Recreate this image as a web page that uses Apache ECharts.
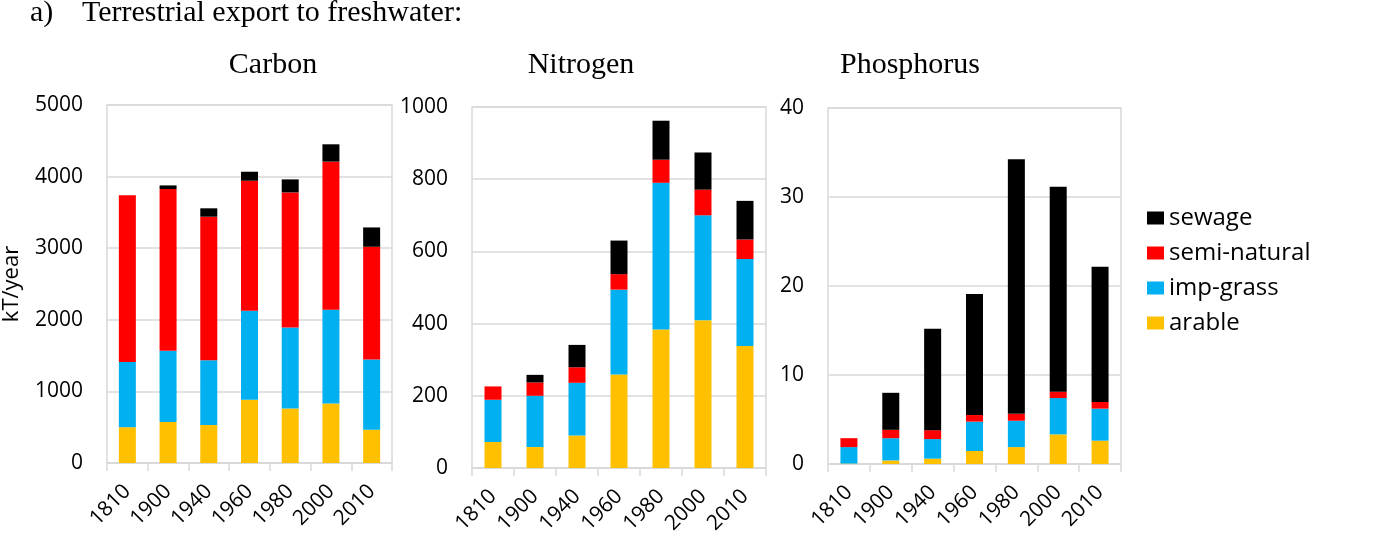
<!DOCTYPE html>
<html>
<head>
<meta charset="utf-8">
<script src="https://cdn.jsdelivr.net/npm/echarts@6/dist/echarts.min.js"></script>
<style>
html,body{margin:0;padding:0;background:#fff;}
#chart{width:1388px;height:547px;}
</style>
</head>
<body>
<div id="chart"></div>
<script>
const categories = ['1810','1900','1940','1960','1980','2000','2010'];
const seriesNames = ['arable','imp-grass','semi-natural','sewage'];
const legendOrder = ['sewage','semi-natural','imp-grass','arable'];
const colors = {'arable':'#ffc000','imp-grass':'#00b0f0','semi-natural':'#ff0000','sewage':'#000000'};

const carbonArable = [500, 573, 530, 885, 760, 830, 466];
const carbonImpGrass = [910, 993, 905, 1240, 1132, 1310, 979];
const carbonSemiNatural = [2330, 2260, 2005, 1817, 1887, 2069, 1575];
const carbonSewage = [0, 51, 117, 126, 182, 242, 270];

const nitrogenArable = [72, 58, 90, 259, 384, 409, 338];
const nitrogenImpGrass = [117, 142, 146, 235, 406, 291, 241];
const nitrogenSemiNatural = [37, 37, 43, 43, 64, 71, 54];
const nitrogenSewage = [0, 21, 62, 93, 108, 103, 107];

const phosphorusArable = [0.05, 0.4, 0.6, 1.46, 1.9, 3.33, 2.62];
const phosphorusImpGrass = [1.85, 2.5, 2.2, 3.3, 2.96, 4.08, 3.6];
const phosphorusSemiNatural = [1.0, 0.94, 1.0, 0.74, 0.78, 0.72, 0.75];
const phosphorusSewage = [0, 4.16, 11.4, 13.6, 28.6, 23.03, 15.2];

const panelTitles = ['Carbon','Nitrogen','Phosphorus'];
const yMax = [5000, 1000, 40];
const yInterval = [1000, 200, 10];

const panelData = [
  [carbonArable, carbonImpGrass, carbonSemiNatural, carbonSewage],
  [nitrogenArable, nitrogenImpGrass, nitrogenSemiNatural, nitrogenSewage],
  [phosphorusArable, phosphorusImpGrass, phosphorusSemiNatural, phosphorusSewage]
];

const gridPos = [
  {left:104, top:105, width:288, height:358},
  {left:472, top:107, width:294, height:361},
  {left:828, top:108, width:293, height:356}
];
const titleCenters = [273, 581, 910];

const axisFont = 'Open Sans';
const gray = '#d9d9d9';

const grids = gridPos.map(g => Object.assign({show:true, borderColor:gray, borderWidth:1.5, containLabel:false}, g));

const xAxes = gridPos.map((g,i) => ({
  type:'category', gridIndex:i, data:categories, boundaryGap:true,
  axisLine:{show:true, lineStyle:{color:gray, width:1.5}},
  axisTick:{show:true, length:8, lineStyle:{color:gray, width:1.5}},
  axisLabel:{rotate:45, margin:25, fontFamily:axisFont, fontSize:21, color:'#000', interval:0}
}));

const yAxes = gridPos.map((g,i) => ({
  type:'value', gridIndex:i, min:0, max:yMax[i], interval:yInterval[i],
  axisLine:{show:false}, axisTick:{show:false},
  splitLine:{show:true, lineStyle:{color:gray, width:1.5}},
  axisLabel:{margin:24, fontFamily:axisFont, fontSize:21, color:'#000', formatter: v => String(v)},
  name: i===0 ? 'kT/year' : '',
  nameLocation:'middle', nameRotate:90, nameGap:84,
  nameTextStyle:{fontFamily:axisFont, fontSize:22, color:'#000'}
}));

const series = [];
panelData.forEach((arrs, gi) => {
  arrs.forEach((vals, si) => {
    series.push({
      type:'bar', name:seriesNames[si], xAxisIndex:gi, yAxisIndex:gi,
      stack:'s'+gi, data:vals, barWidth:17,
      itemStyle:{color:colors[seriesNames[si]]},
      emphasis:{disabled:true}
    });
  });
});

const titles = [
  {text:'a)', left:30, top:-2, padding:0, textStyle:{fontFamily:'Liberation Serif', fontSize:30, fontWeight:'normal', color:'#000'}},
  {text:'Terrestrial export to freshwater:', left:82, top:-2, padding:0, textStyle:{fontFamily:'Liberation Serif', fontSize:30, fontWeight:'normal', color:'#000'}}
].concat(panelTitles.map((t,i) => ({
  text:t, left:titleCenters[i], textAlign:'center', top:50, padding:0,
  textStyle:{fontFamily:'Liberation Serif', fontSize:30, fontWeight:'normal', color:'#000'}
})));

const chart = echarts.init(document.getElementById('chart'), null, {renderer:'canvas'});
chart.setOption({
  animation:false,
  backgroundColor:'#fff',
  title:titles,
  legend:{
    data:legendOrder, orient:'vertical', left:1142, top:201,
    itemWidth:17, itemHeight:13, itemGap:11, icon:'rect',
    textStyle:{fontFamily:axisFont, fontSize:24, color:'#000'}
  },
  grid:grids,
  xAxis:xAxes,
  yAxis:yAxes,
  series:series
});
</script>
</body>
</html>
